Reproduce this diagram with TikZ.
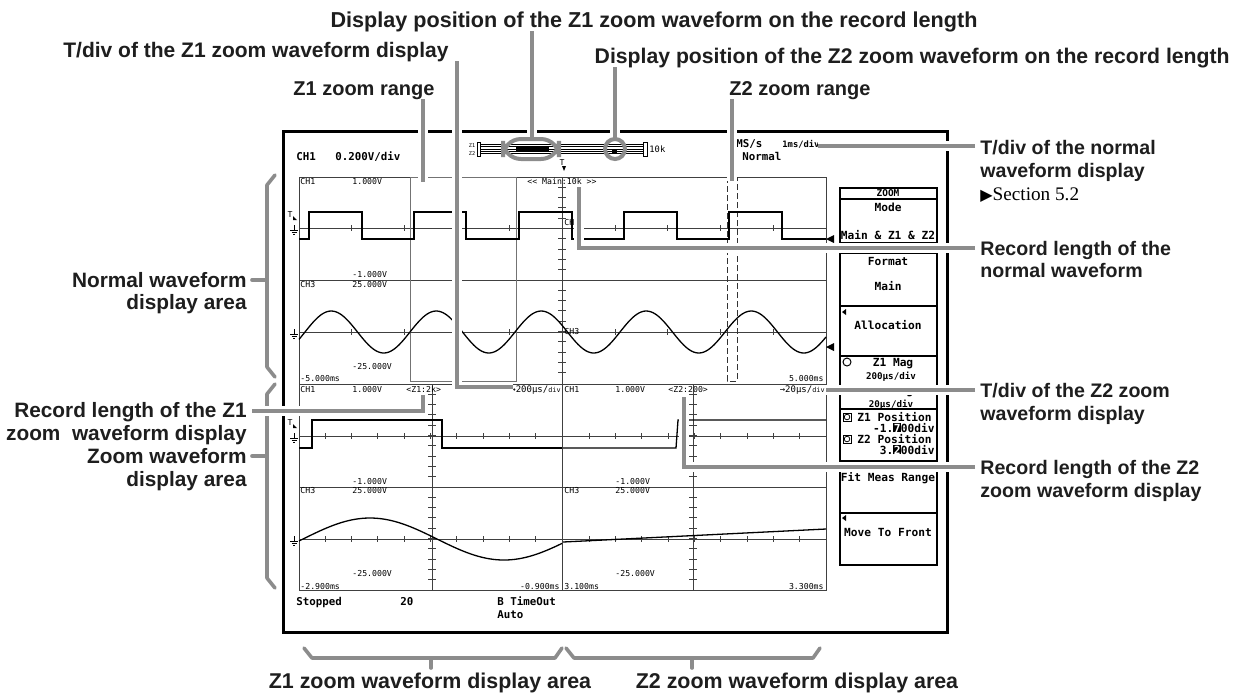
\documentclass[tikz,border=0pt]{standalone}
\usepackage{fontspec}
\setmainfont{Liberation Sans}
\newfontfamily\monof{DejaVu Sans Mono}
\newfontfamily\serf{Liberation Serif}
\newfontfamily\symf{DejaVu Sans}
\newcommand\hlbox[1]{{\setlength{\fboxsep}{0.2pt}\colorbox{black}{\textcolor{white}{#1}}}}
\definecolor{lg}{RGB}{140,140,140}
\definecolor{txt}{RGB}{30,30,30}
\tikzset{gnd/.pic={\draw[line width=0.4pt] (0,-4)--(0,1) (-4,1)--(4,1) (-2.5,3)--(2.5,3) (-1,5)--(1,5);}}
\begin{document}
\begin{tikzpicture}[x=0.5pt,y=-0.5pt,
 lead/.style={draw=lg,line width=2pt,preaction={draw=white,line width=4.6pt}},
 bracel/.style={draw=lg,line width=1.8pt,line join=round,line cap=round},
 lbl/.style={font=\bfseries\fontsize{9.8}{11.5}\selectfont,inner sep=0pt,text=txt,text height=7pt,text depth=0pt},
 lblsz/.style={lbl,font=\bfseries\fontsize{#1}{13}\selectfont,text height=7.5pt},
 scr/.style={font=\monof\fontsize{4.1}{5}\selectfont,inner sep=0pt,text height=3pt,text depth=0pt},
 scrb/.style={font=\monof\bfseries\fontsize{5.4}{6.5}\selectfont,inner sep=0pt,text height=4pt,text depth=0pt},
 menut/.style={font=\monof\bfseries\fontsize{5.6}{6.5}\selectfont,inner sep=0pt,text height=4pt,text depth=0pt},
 gridl/.style={draw=black!75,line width=0.5pt},
 wave/.style={draw=black,line width=0.65pt},
 scrframe/.style={draw=black,line width=1.5pt},
 mk/.style={fill=black}]
\useasboundingbox (0,0) rectangle (1242,693);
\fill[white] (0,0) rectangle (1242,693);

% ---------- screen frame ----------
\draw[scrframe] (283,131) rectangle (947,632);

% ---------- grids ----------
\draw[gridl] (299,177) rectangle (826,590);
\draw[gridl] (299,280) -- (826,280);
\draw[gridl] (299,384) -- (826,384);
\draw[gridl] (299,487) -- (826,487);
\draw[gridl] (562,177) -- (562,590);
\draw[gridl] (432,384) -- (432,590);
\draw[gridl] (693,384) -- (693,590);
\draw[gridl] (299,228) -- (826,228);
\draw[gridl] (299,332) -- (826,332);
\draw[gridl] (299,436) -- (826,436);
\draw[gridl] (299,539) -- (826,539);
\foreach \i in {1,...,9} {
  \draw[gridl] ({299+52.7*\i},225) -- ++(0,6);
  \draw[gridl] ({299+52.7*\i},329) -- ++(0,6);
  \draw[gridl] ({299+26.3*\i},433) -- ++(0,6);
  \draw[gridl] ({299+26.3*\i},536) -- ++(0,6);
  \draw[gridl] ({563+26.3*\i},433) -- ++(0,6);
  \draw[gridl] ({563+26.3*\i},536) -- ++(0,6);
}
\foreach \k in {1,...,19} {
  \draw[gridl] (558,{177+10.3*\k}) -- ++(8,0);
  \draw[gridl] (428,{384+10.3*\k}) -- ++(8,0);
  \draw[gridl] (689,{384+10.3*\k}) -- ++(8,0);
}

% zoom ranges
\draw[draw=black!55,line width=0.5pt] (410,177) rectangle (516,381);
\draw[draw=black!80,line width=0.5pt,dash pattern=on 3pt off 1.5pt] (727,177) rectangle (737,381);

% ---------- waveforms ----------
\draw[wave] (299,239) -- (309,239) -- (309,212) -- (362,212) -- (362,239) -- (414,239) -- (414,212) -- (466,212) -- (466,239) -- (519,239) -- (519,212) -- (572,212) -- (572,239) -- (624,239) -- (624,212) -- (677,212) -- (677,239) -- (729,239) -- (729,212) -- (782,212) -- (782,239) -- (826,239);
\draw[wave] plot[domain=299:826,samples=260] (\x,{332-21*sin((\x-305)*3.428571)});
\draw[wave] (299,448) -- (312,448) -- (312,420) -- (442,420) -- (442,448) -- (562,448);
\draw[wave] plot[domain=299:562,samples=120] (\x,{539-21*sin((\x-303)*1.343284)});
\draw[wave] (563,448) -- (676,448) -- (678,420) -- (826,420);
\draw[wave] (563,542) -- (826,529);

% markers right of grid
\fill[mk] (826,239) -- (834,235) -- (834,243) -- cycle;
\fill[mk] (826,347) -- (834,343) -- (834,351) -- cycle;

% trigger / ground markers
\node[scr] (trT) at (562,162) {T};
\fill[mk] (562,166) -- (566,166) -- (564,171) -- cycle;
\node[scr] (trL1) at (290,214) {T};
\fill[mk] (293,216) -- (297,220) -- (293,220) -- cycle;
\node[scr] (trL2) at (290,422) {T};
\fill[mk] (293,424) -- (297,428) -- (293,428) -- cycle;
\pic at (294,229) {gnd};
\pic at (294,333) {gnd};
\pic at (294,437) {gnd};
\pic at (294,540) {gnd};

% ---------- screen texts: top ----------
\node[scrb,anchor=west] (sCH) at (296,156) {CH1};
\node[scrb,anchor=west] (sVd) at (335,156) {0.200V/div};
\node[scrb,anchor=west] (sMS) at (736,143) {MS/s};
\node[scrb,anchor=west] (sNo) at (742,156) {Normal};
\node[scr,anchor=west,font=\monof\bfseries\fontsize{4.4}{5}\selectfont] (sT) at (782,144) {1ms/div};

% record length bar
\node[scr,font=\monof\fontsize{2.6}{3}\selectfont] (rz1) at (472,144) {Z1};
\node[scr,font=\monof\fontsize{2.6}{3}\selectfont] (rz2) at (472,152) {Z2};
\draw[line width=0.4pt] (477,142) rectangle (480,156);
\foreach \yy in {144.3,146.7,149,151.3,153.7} {\draw[line width=0.35pt] (480,\yy) -- (643,\yy);}
\draw[line width=0.4pt] (643,142) rectangle (647,156);
\node[scr,anchor=west,font=\monof\fontsize{4.4}{5}\selectfont] (r10k) at (649,149) {10k};
\fill[mk] (516,146) rectangle (549,151);
\fill[mk] (612,149) rectangle (617,153);

% normal area texts
\node[scr,anchor=west] (n1) at (300,181) {CH1};
\node[scr,anchor=west] (n2) at (352,181) {1.000V};
\node[scr,anchor=west] (n3) at (527,181) {<< Main:10k >>};
\node[scr,anchor=west] (n4) at (564,222) {CH1};
\node[scr,anchor=west] (n5) at (352,274) {-1.000V};
\node[scr,anchor=west] (n6) at (300,284) {CH3};
\node[scr,anchor=west] (n7) at (352,284) {25.000V};
\node[scr,anchor=west] (n8) at (564,331) {CH3};
\node[scr,anchor=west] (n9) at (352,366) {-25.000V};
\node[scr,anchor=west] (n10) at (300,378) {-5.000ms};
\node[scr,anchor=east] (n11) at (824,378) {5.000ms};

% zoom area texts
\node[scr,anchor=west] (a1) at (300,389) {CH1};
\node[scr,anchor=west] (a2) at (352,389) {1.000V};
\node[scr,anchor=west] (a3) at (406,389) {<Z1:2k>};
\node[scr,anchor=east,font=\monof\fontsize{4.5}{6}\selectfont] (a4) at (561,389) {→200μs/{\fontsize{3.4}{4}\selectfont div}};
\node[scr,anchor=west] (a5) at (352,481) {-1.000V};
\node[scr,anchor=west] (a6) at (300,490) {CH3};
\node[scr,anchor=west] (a7) at (352,490) {25.000V};
\node[scr,anchor=west] (a8) at (352,573) {-25.000V};
\node[scr,anchor=west] (a9) at (300,586) {-2.900ms};
\node[scr,anchor=east] (a10) at (560,586) {-0.900ms};
\node[scr,anchor=west] (b1) at (564,389) {CH1};
\node[scr,anchor=west] (b2) at (615,389) {1.000V};
\node[scr,anchor=west] (b3) at (668,389) {<Z2:200>};
\node[scr,anchor=east,font=\monof\fontsize{4.5}{6}\selectfont] (b4) at (825,389) {→20μs/{\fontsize{3.4}{4}\selectfont div}};
\node[scr,anchor=west] (b5) at (615,481) {-1.000V};
\node[scr,anchor=west] (b6) at (564,490) {CH3};
\node[scr,anchor=west] (b7) at (615,490) {25.000V};
\node[scr,anchor=west] (b8) at (615,573) {-25.000V};
\node[scr,anchor=west] (b9) at (564,586) {3.100ms};
\node[scr,anchor=east] (b10) at (824,586) {3.300ms};

% status line
\node[scrb,anchor=west] (st1) at (296,601) {Stopped};
\node[scrb,anchor=west] (st2) at (400,601) {20};
\node[scrb,anchor=west] (st3) at (497,601) {B TimeOut};
\node[scrb,anchor=west] (st4) at (497,614) {Auto};

% ---------- menu ----------
\draw[line width=0.6pt] (840,188) rectangle (937,565);
\foreach \yy in {199,243,253,306,356,409,461,513} {\draw[line width=0.6pt] (840,\yy) -- (937,\yy);}
\node[menut,font=\monof\bfseries\fontsize{4.7}{5}\selectfont,text height=3.4pt] (m1) at (888,193.5) {ZOOM};
\node[menut] (m2) at (888,207) {Mode};
\node[menut] (m3) at (888,235) {Main \& Z1 \& Z2};
\node[menut] (m4) at (888,261) {Format};
\node[menut] (m5) at (888,286) {Main};
\fill[mk] (842,312) -- (846,309) -- (846,315) -- cycle;
\node[menut] (m6) at (888,325) {Allocation};
\draw[line width=0.5pt] (847,362) circle[radius=2pt];
\node[menut] (m7) at (893,362) {Z1 Mag};
\node[menut,font=\monof\bfseries\fontsize{4.6}{5}\selectfont] (m8) at (891,375) {200μs/div};
\fill[mk] (846,390) circle[radius=1.9pt];
\node[menut] (m9) at (893,390) {Z2 Mag};
\node[menut,font=\monof\bfseries\fontsize{4.6}{5}\selectfont] (m10) at (891,403) {20μs/div};
\draw[line width=0.4pt] (843,413) rectangle (851,421);
\draw[line width=0.4pt] (847,417) circle[radius=1.4pt];
\node[menut,anchor=west] (m11) at (857,417) {Z1 Position};
\node[menut,anchor=east] (m12) at (935,428) {-1.\hlbox{7}00div};
\draw[line width=0.4pt] (843,435) rectangle (851,443);
\draw[line width=0.4pt] (847,439) circle[radius=1.4pt];
\node[menut,anchor=west] (m13) at (857,439) {Z2 Position};
\node[menut,anchor=east] (m14) at (935,450) {3.\hlbox{2}00div};
\fill[mk] (842,467) -- (846,464) -- (846,470) -- cycle;
\node[menut] (m15) at (888,477) {Fit Meas Range};
\fill[mk] (842,518) -- (846,515) -- (846,521) -- cycle;
\node[menut] (m16) at (888,532) {Move To Front};

% ---------- annotation labels ----------
\node[lblsz=10.8] (tA) at (654,20) {Display position of the Z1 zoom waveform on the record length};
\node[lblsz=10.5,anchor=west] (tB) at (63,50) {T/div of the Z1 zoom waveform display};
\node[lblsz=10.6,anchor=east] (tC) at (1230,56) {Display position of the Z2 zoom waveform on the record length};
\node[lblsz=10,anchor=west] (tD) at (293,88) {Z1 zoom range};
\node[lblsz=10,anchor=west] (tE) at (729,88) {Z2 zoom range};

\node[lbl,anchor=west] (rA1) at (980,147) {T/div of the normal};
\node[lbl,anchor=west] (rA2) at (980,170) {waveform display};
\node[inner sep=0pt,anchor=west,font=\serf\fontsize{9.6}{11}\selectfont,text height=7pt,text depth=0pt] (rA3) at (980,193) {{\symf\fontsize{8}{9}\selectfont ▶}Section 5.2};
\node[lbl,anchor=west] (rB1) at (980,248) {Record length of the};
\node[lbl,anchor=west] (rB2) at (980,270) {normal waveform};
\node[lbl,anchor=west] (rC1) at (980,390) {T/div of the Z2 zoom};
\node[lbl,anchor=west] (rC2) at (980,413) {waveform display};
\node[lbl,anchor=west] (rD1) at (980,467) {Record length of the Z2};
\node[lbl,anchor=west] (rD2) at (980,490) {zoom waveform display};

\node[lblsz=10.4,anchor=east] (lA1) at (247,280) {Normal waveform};
\node[lblsz=10.4,anchor=east] (lA2) at (247,302) {display area};
\node[lblsz=10.4,anchor=east] (lB1) at (247,410) {Record length of the Z1};
\node[lblsz=10.4,anchor=east] (lB2) at (247,433) {zoom\ \ waveform display};
\node[lblsz=10.4,anchor=east] (lC1) at (247,456) {Zoom waveform};
\node[lblsz=10.4,anchor=east] (lC2) at (247,479) {display area};

\node[lblsz=10.7] (bZ1) at (430,681) {Z1 zoom waveform display area};
\node[lblsz=10.7] (bZ2) at (797,681) {Z2 zoom waveform display area};

% ---------- braces ----------
\draw[bracel] (275,175) -- (267,185) -- (267,367) -- (275,377);
\draw[bracel] ([xshift=2.5pt]lA1.east) -- (267,280);
\draw[bracel] (275,384) -- (267,394) -- (267,578) -- (275,588);
\draw[bracel] ([xshift=2.5pt]lC1.east) -- (267,456);
\draw[bracel] (304,648) -- (312,658) -- (555,658) -- (562,648);
\draw[bracel] (431,658) -- (431,668);
\draw[bracel] (566,648) -- (574,658) -- (813,658) -- (820,648);
\draw[bracel] (692,658) -- (692,668);

% ---------- leaders ----------
\coordinate (eA) at (532,139);
\coordinate (eB) at (513,387);
\coordinate (eC) at (615,139);
\coordinate (eD) at (423,182);
\coordinate (eE) at (732,181);
\coordinate (eRA) at (818,146);
\coordinate (eRB) at (579,187);
\coordinate (eRC) at (826,390);
\coordinate (eRD) at (684,397);
\coordinate (eLB) at (423,395);

\draw[lead] (532,31) -- (eA);
\draw[lead] (457,61) -- (457,387) -- (eB);
\draw[lead] (615,67) -- (eC);
\draw[lead] (423,99) -- (eD);
\draw[lead] (732,99) -- (eE);
\draw[lead] (975,146) -- (eRA);
\draw[lead] (975,248) -- (579,248) -- (eRB);
\draw[lead] (975,390) -- (eRC);
\draw[lead] (975,467) -- (684,467) -- (eRD);
\draw[lead] (252,411) -- (423,411) -- (eLB);

% oval and circle on record bar
\draw[draw=lg,line width=2pt,rounded corners=9pt] (503,139) rectangle (559,159);
\draw[draw=lg,line width=2pt] (615,149) circle[radius=5pt];
\end{tikzpicture}
\end{document}
